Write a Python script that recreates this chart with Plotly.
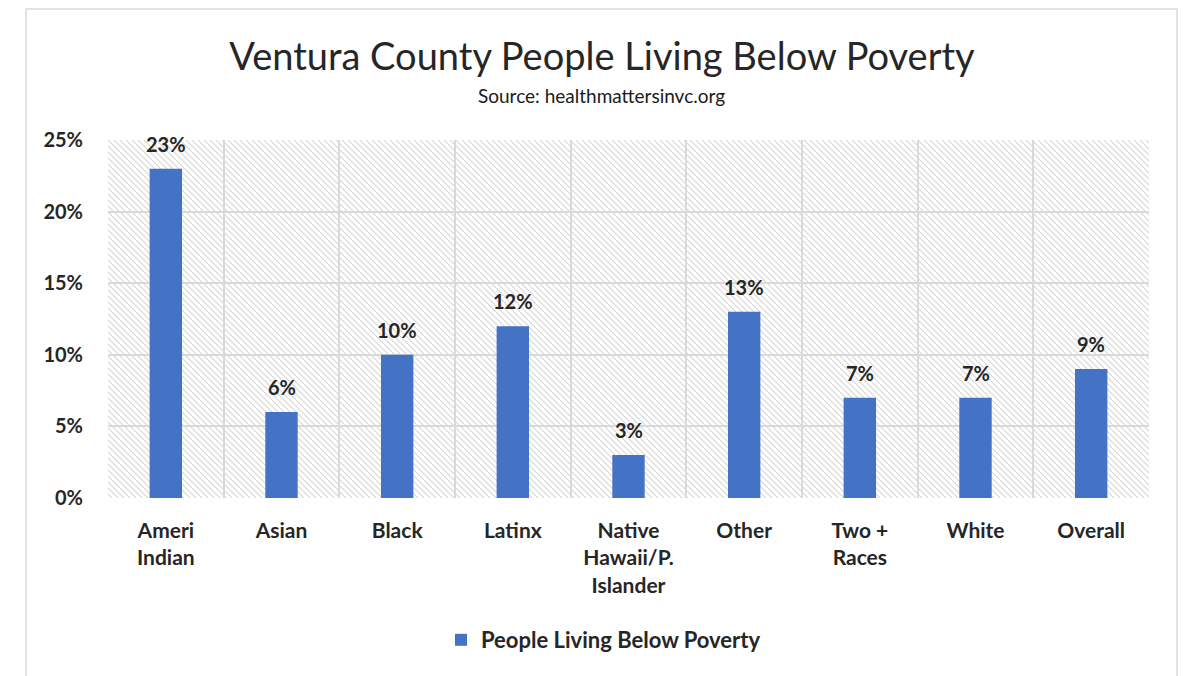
import base64
import plotly.graph_objects as go

# Poverty rate by race / ethnicity, Ventura County
categories = ["Ameri<br>Indian", "Asian", "Black", "Latinx", "Native<br>Hawaii/P.<br>Islander",
              "Other", "Two +<br>Races", "White", "Overall"]
poverty_rate = [0.23, 0.06, 0.10, 0.12, 0.03, 0.13, 0.07, 0.07, 0.09]
series_name = "People Living Below Poverty"
y_max = 0.25
y_ticks = [0, 0.05, 0.10, 0.15, 0.20, 0.25]

W, H = 1185, 676
L, R, T, B = 108, 36, 140, 178
plot_w, plot_h = W - L - R, H - T - B

FONT = "Lato"
TEXT_DARK = "#262626"
BAR_BLUE = "#4472C4"
GRID = "#d9d9d9"


def px_x(x):
    return (x - L) / plot_w


def px_y(y):
    return (H - B - y) / plot_h


# diagonal hatch used as the plot-area background
hatch_svg = f"""<svg xmlns="http://www.w3.org/2000/svg" width="{plot_w}" height="{plot_h}">
<defs><pattern id="h" width="6" height="6" patternUnits="userSpaceOnUse">
<path d="M-1,-1 L7,7 M-1,5 L1,7 M5,-1 L7,1" stroke="#d6d6d6" stroke-width="1.1"/>
</pattern></defs>
<rect width="100%" height="100%" fill="white"/>
<rect width="100%" height="100%" fill="url(#h)"/>
</svg>"""
hatch_uri = "data:image/svg+xml;base64," + base64.b64encode(hatch_svg.encode()).decode()

fig = go.Figure()

fig.add_trace(go.Bar(
    x=categories, y=poverty_rate, width=0.28, name=series_name,
    marker=dict(color=BAR_BLUE, line=dict(width=0)),
    hovertemplate="%{x}: %{y:.0%}<extra></extra>",
))

# value labels sitting above each bar
for cat, val in zip(categories, poverty_rate):
    fig.add_annotation(x=cat, y=val, text=f"{val:.0%}", showarrow=False,
                       xanchor="center", yanchor="middle", yshift=25,
                       font=dict(family=FONT, size=20, color=TEXT_DARK, weight="bold"))

fig.update_layout(
    width=W, height=H,
    margin=dict(l=L, r=R, t=T, b=B),
    paper_bgcolor="white", plot_bgcolor="white",
    title=dict(text="Ventura County People Living Below Poverty",
               font=dict(family=FONT, size=38, color=TEXT_DARK),
               x=602 / W, xanchor="center", xref="container",
               y=1 - 57 / H, yanchor="middle", yref="container"),
    legend=dict(orientation="h", x=px_x(766), xanchor="right",
                y=px_y(640), yanchor="middle",
                font=dict(family=FONT, size=22, color=TEXT_DARK, weight="bold")),
    showlegend=True,
    images=[dict(source=hatch_uri, xref="paper", yref="paper", x=0, y=1,
                 sizex=1, sizey=1, sizing="stretch", xanchor="left", yanchor="top",
                 layer="below")],
)

fig.update_xaxes(
    type="category", tickson="boundaries", showgrid=True,
    gridcolor=GRID, gridwidth=2, ticks="", showline=False,
    tickfont=dict(family=FONT, size=21, color=TEXT_DARK, weight="bold"),
    ticklabelstandoff=18,
)
fig.update_yaxes(
    range=[0, y_max], tickvals=y_ticks, tickformat=".0%",
    showgrid=True, gridcolor=GRID, gridwidth=2, zeroline=False,
    showline=False, ticks="",
    tickfont=dict(family=FONT, size=20, color=TEXT_DARK, weight="bold"),
    ticklabelstandoff=24,
)

# outer chart border
fig.add_shape(type="rect", xref="paper", yref="paper",
              x0=px_x(26), x1=px_x(1177), y0=px_y(700), y1=px_y(9),
              line=dict(color="#d9d9d9", width=1.5), layer="below")

fig.add_annotation(text="Source: healthmattersinvc.org", xref="paper", yref="paper",
                   x=px_x(601), y=px_y(95), xanchor="center", yanchor="middle",
                   showarrow=False, font=dict(family=FONT, size=19, color="#1a1a1a"))

fig.write_html("out.html")
